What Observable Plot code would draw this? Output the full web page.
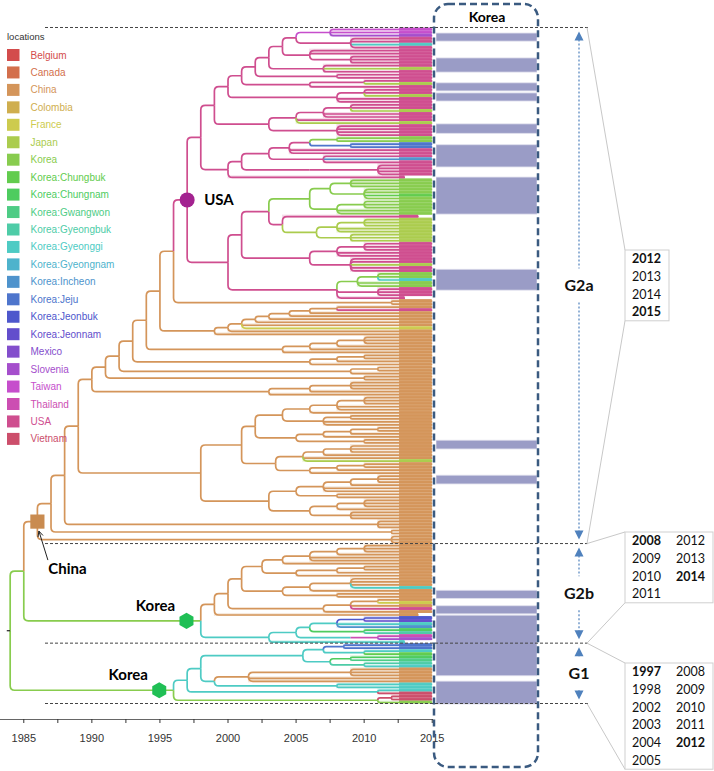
<!DOCTYPE html>
<html>
<head>
<meta charset="utf-8">
<script src="https://cdn.jsdelivr.net/npm/d3@7"></script>
<script src="https://cdn.jsdelivr.net/npm/@observablehq/plot@0.6"></script>
<style>
  html, body { margin: 0; padding: 0; background: #fff; }
  #wrap { position: relative; width: 714px; height: 771px; overflow: hidden; }
  #wrap > svg { position: absolute; top: 0; }
</style>
</head>
<body>
<div id="wrap"></div>
<script>
// ---------------- DATA ----------------
const locations = ["Belgium","Canada","China","Colombia","France","Japan","Korea",
  "Korea:Chungbuk","Korea:Chungnam","Korea:Gwangwon","Korea:Gyeongbuk","Korea:Gyeonggi",
  "Korea:Gyeongnam","Korea:Incheon","Korea:Jeju","Korea:Jeonbuk","Korea:Jeonnam",
  "Mexico","Slovenia","Taiwan","Thailand","USA","Vietnam"];
const locationCodes = ["B","N","C","O","F","J","K","1","2","3","4","5","6","7","8","9","0","M","S","T","H","U","V"];

// Time-scaled tree: [nodeYear locationCode =name children...]; leaf tokens = one char per tip (tip year 2015 unless ":year")
const treeText = `
[1984.0 K =ROOT
 [1985.0 K
  [1986.0 C =CN
   [1987.0 C
    [1988.0 C
     [1989.0 C
      [1990.0 C
       [1991.0 C
        [1992.0 C
         [1993.0 C
          [1994.0 C
           [1995.0 C
            [1996.0 C
             [1997.0 U =US
              [1998.0 U
               [1999.0 U
                [2000.0 U
                 [2001.0 U
                  [2002.0 U
                   [2003.0 U
                    [2004.0 U
                     [2005.0 U [2007.5 T TTS] [2009 U UU5U]]
                     [2006.0 U UU [2009 U UUU]]]
                    [2007 U UJU]]
                   [2008 U UU]]
                  [2006 U [2010 U UJ] U]]
                 [2008.0 U [2010 U UUJ] UU]]
                [2003.0 U
                 [2005.0 U [2007 U [2009 U UUJ] UU] UJ]
                 [2008 U UUUU]]]
               [2000.0 U
                [2001.0 U
                 [2003.0 U [2004.5 U [2006 U [2008 K KK] [2009 8 88]] UU] [2007 U U7U]]
                 [2006.0 U [2011 U UUUU]]]
                U:2013]]
              [2000.0 U
               [2001.0 U
                [2003.0 U
                 [2006.0 K [2007.5 K [2009 K KKK] [2010 K KK1K]] [2008 K [2010 K KKK] KK]]
                 [2004.0 U U:2014 [2006.5 J [2008 J [2010 J JJJ] JJ] [2009 J JJJ]]]]
                [2006.0 U [2008 U [2010 U UUU] UU] [2009 U UUJUU]]]
               [2008.0 U
                [2009.5 K [2011 K KK5] KK]
                [2011 U UUU]
                U:2013]]]
             [2012 C CC]]
            [1999.0 C [2000 C [2001 C [2002 C [2003 C [2004.5 C [2006 C [2008 C CU] C] C] C] C] CF] C] C]]
           [2004.0 C [2006 C [2008 C [2010 C CCC] C] C] C]]
          [2006 C [2008 C [2010 C CC] C] C]]
         [2009 C [2011 C CC] C]]
        [2010 C CC]]
       [2003 C [2006 C [2009 C CCC] C] C]]
      [1998.0 C =M
       [2001.0 C
        [2002.0 C
         [2004.0 C [2006 C [2008 C [2010 C CCC] CC] C] [2007 C [2009 C CC] CC]]
         [2005.0 C [2007 C [2009 C [2011 C CC] C] C] [2010 C CC]]]
        [2003.5 C
         [2005.5 C [2007 C [2009 C CCC] C] CJ]
         [2006 C [2008 C [2010 C CC] C] C]]]
       [2003.0 C
        [2005 C [2007 C [2009 C [2011 C CCC] C] CC] [2008 C CC]]
        [2006 C [2008 C [2010 C CCC] C] [2009 C CCC]]]]]
     [2011 C CCC]]
    [2012 C CC]]
   [2012 C CCC]]
  [1998.0 K =K2
   [1999.0 C
    [2000.0 C
     [2001 C
      [2002.5 C
       [2004 C [2006 C [2008 C [2010 C CCC] C] CC] C]
       [2005 C [2008 C [2010 C CC] C] C]]
      [2004 C [2006 C [2009 C CCC5] C] [2008 C CC]]]
     [2007 C [2009 C [2011 C CF] CU] C]]
    C:2014]
   [2003 5 [2005 5 [2006 5 [2008 5 [2010 9 90] 57] [2010 2 24]] [2009 5 [2011 H HS]]] 5:2013]]]
 [1996.0 K =K1
  [1997.0 5
   [1998.0 5
    [2005.5 5
     [2007 5 [2008.5 8 88] [2010 5 51]]
     [2007.5 5 [2009 2 23] [2010 4 45]]]
    [1999.0 5 [2001.5 C [2009 C CCC] CC] [2008 5 55]]]
   [2011 5 5V]]
  [2011 K [2012 V VV] K]]]
`;

// Korea sequences panel: [top, bottom] in tree-row percent (0 = first tip, 100 = last tip)
const koreaBars = [[0.6,1.8],[4.3,6.4],[8.0,9.2],[9.5,10.7],[14.1,15.5],[17.2,20.5],[22.0,27.5],
  [35.7,38.8],[61.1,62.4],[66.3,67.6],[83.4,84.6],[85.7,86.9],[87.1,96.1],[96.9,100.3]];

const majorYears = [1985,1990,1995,2000,2005,2010,2015];
const minorYears = [1987.5,1992.5,1997.5,2002.5,2007.5,2012.5];

const groupNames = ["G2a","G2b","G1"];
const groupNodes = ["CN","K2","K1"];
const groupYears = [[2012,2013,2014,2015],[2008,2009,2010,2011,2012,2013,2014],
  [1997,1998,2002,2003,2004,2005,2008,2009,2010,2011,2012]];
const groupBold = [[2012,2015],[2008,2014],[1997,2012]];

// ---------------- STYLE / LAYOUT ----------------
const palette = ["#d34c4c","#d36f4c","#d4955a","#cfae4e","#cdcb4e","#abcc4e","#88cc4e","#62cc4e",
  "#4ecc5f","#4ecc85","#4ecca7","#4ecbc4","#4eb3cc","#4e93cc","#4e75cc","#4e57cc","#634ecc",
  "#834ecc","#a54ecc","#c64ecc","#cc4eb2","#cf4e8f","#cc4e6b"];
const W = 714, H = 771;
const TIP_SOLID = 2012.6;
const boxTop = [250, 532, 663];

// ---------------- PARSE + LAYOUT TREE ----------------
function parseTree(str) {
  const toks = str.replace(/\[/g, " [ ").replace(/\]/g, " ] ").trim().split(/\s+/);
  let i = 0;
  function node(parent) {
    const t = toks[i++];
    if (t === "[") {
      const n = {year: +toks[i++], loc: toks[i++], children: [], parent, leaf: false};
      if (toks[i][0] === "=") n.name = toks[i++].slice(1);
      while (toks[i] !== "]") {
        const c = node(n);
        if (Array.isArray(c)) n.children.push(...c); else n.children.push(c);
      }
      i++;
      return n;
    }
    const [codes, yr] = t.split(":");
    return [...codes].map(ch => ({year: yr ? +yr : 2015, loc: ch, children: [], parent, leaf: true}));
  }
  return node(null);
}
const root = parseTree(treeText);
const nodes = [], leaves = [];
(function walk(n) { nodes.push(n); if (n.leaf) leaves.push(n); else n.children.forEach(walk); })(root);
const N = leaves.length, rowStep = 100 / (N - 1), half = rowStep / 2;
leaves.forEach((d, i) => d.y = i * rowStep);
(function setY(n) {
  if (n.leaf) return;
  n.children.forEach(setY);
  n.y = (n.children[0].y + n.children[n.children.length - 1].y) / 2;
})(root);
const byName = Object.fromEntries(nodes.filter(d => d.name).map(d => [d.name, d]));
const branches = nodes.filter(d => d.parent);

// rounded elbow curve
function elbow(context) {
  let pts = [];
  return {
    areaStart() {}, areaEnd() {},
    lineStart() { pts = []; },
    point(x, y) { pts.push([+x, +y]); },
    lineEnd() {
      if (pts.length < 2) return;
      const [x0, y0] = pts[0], [x1, y1] = pts[pts.length - 1];
      const dy = y1 - y0, dx = x1 - x0;
      const r = Math.min(4.5, Math.abs(dy), Math.abs(dx));
      context.moveTo(x0, y0);
      if (r > 0.05) {
        context.lineTo(x0, y1 - Math.sign(dy) * r);
        context.quadraticCurveTo(x0, y1, x0 + Math.sign(dx) * r, y1);
      } else context.lineTo(x0, y1);
      context.lineTo(x1, y1);
    }
  };
}

const us = byName.US, cn = byName.CN, k2 = byName.K2, k1 = byName.K1;

const chart = Plot.plot({
  width: W, height: H,
  marginLeft: 0, marginRight: 282, marginTop: 0, marginBottom: 52,
  x: {domain: [1983.29, 2015.02], label: null},
  y: {domain: [0, 100], range: [29, 702], axis: null, label: null},
  color: {type: "ordinal", domain: locationCodes, range: palette},
  style: {fontFamily: "'Liberation Sans', Arial, sans-serif", background: "transparent"},
  marks: [
    Plot.rect(leaves, {x1: d => d.parent.year, x2: "year", y1: d => d.y - half, y2: d => d.y + half, fill: "loc", fillOpacity: 0.2}),
    Plot.rect(leaves.filter(d => d.year > Math.max(d.parent.year, TIP_SOLID)),
      {x1: d => Math.max(d.parent.year, TIP_SOLID), x2: "year", y1: d => d.y - half, y2: d => d.y + half, fill: "loc", fillOpacity: 0.95}),
    Plot.link(branches, {x1: d => d.parent.year, y1: d => d.parent.y, x2: "year", y2: "y", stroke: "loc", strokeWidth: 1.7, curve: elbow}),
    Plot.link([root], {x1: d => d.year - 0.25, x2: "year", y1: "y", y2: "y", stroke: "#222", strokeWidth: 1.2}),
    Plot.frame({anchor: "bottom", stroke: "#666", strokeWidth: 1.2}),
    Plot.axisX({ticks: majorYears, tickSize: 4, tickPadding: 11, fontSize: 11, tickFormat: "d", color: "#333", label: null}),
    Plot.axisX({ticks: minorYears, tickSize: 4, tickFormat: () => "", color: "#333", label: null}),
    Plot.dot([us], {x: "year", y: "y", r: 7.5, fill: "#a3228f"}),
    Plot.text([us], {x: "year", y: "y", text: () => "USA", dx: 17, textAnchor: "start", fontSize: 15, fontWeight: "bold", fontFamily: "Lato", fill: "#000"}),
    Plot.dot([cn], {x: "year", y: "y", symbol: "square", r: 8, fill: "#c98b50"}),
    Plot.text([cn], {x: "year", y: "y", text: () => "China", dx: 30, dy: 48, fontSize: 15, fontWeight: "bold", fontFamily: "Lato", fill: "#000"}),
    Plot.dot([k2, k1], {x: d => d.year - 1.05, y: "y", symbol: "hexagon", r: 7, fill: "#20bf55"}),
    Plot.text([k2, k1], {x: d => d.year - 1.05, y: "y", text: () => "Korea", dx: -31, dy: -15, fontSize: 15, fontWeight: "bold", fontFamily: "Lato", fill: "#000"})
  ]
});
const wrap = document.getElementById("wrap");
chart.style.left = "0px";
wrap.appendChild(chart);

// Korea sequence column
const bars = Plot.plot({
  width: 101, height: H, marginLeft: 0, marginRight: 0, marginTop: 0, marginBottom: 0,
  x: {domain: [0, 1], axis: null},
  y: {domain: [0, 100], range: [29, 702], axis: null},
  style: {background: "transparent"},
  marks: [Plot.rect(koreaBars, {x1: () => 0, x2: () => 1, y1: d => d[0], y2: d => d[1], fill: "#9a9cc6", stroke: "#dedeec", strokeWidth: 0.8})]
});
bars.style.left = "436px";
wrap.appendChild(bars);

// ---------------- ANNOTATION OVERLAY ----------------
const xs = chart.scale("x"), ysc = chart.scale("y");
const X = d3.scaleLinear(xs.domain, xs.range), Y = d3.scaleLinear(ysc.domain, ysc.range);
const svg = d3.select(wrap).append("svg").attr("width", W).attr("height", H)
  .style("position", "absolute").style("left", "0px").style("top", "0px");

// legend
svg.append("text").attr("x", 7).attr("y", 40).attr("font-size", 9.5)
  .attr("font-family", "'Liberation Sans', Arial, sans-serif").attr("fill", "#333").text("locations");
locations.forEach((name, i) => {
  const cy = 55 + i * 17.45;
  svg.append("rect").attr("x", 7).attr("y", cy - 6).attr("width", 12.5).attr("height", 12).attr("fill", palette[i]);
  svg.append("text").attr("x", 30.5).attr("y", cy).attr("dy", "0.35em").attr("font-size", 10)
    .attr("font-family", "'Liberation Sans', Arial, sans-serif").attr("fill", palette[i]).text(name);
});

// China arrow
{
  const cx = X(cn.year), cy = Y(cn.y);
  const x0 = cx + 11, y0 = cy + 39, x1 = cx + 2, y1 = cy + 10;
  svg.append("line").attr("x1", x0).attr("y1", y0).attr("x2", x1).attr("y2", y1).attr("stroke", "#222").attr("stroke-width", 1);
  const a = Math.atan2(y1 - y0, x1 - x0), L = 6;
  svg.append("path").attr("d", `M${x1 + L * Math.cos(a + Math.PI - 0.45)},${y1 + L * Math.sin(a + Math.PI - 0.45)}L${x1},${y1}L${x1 + L * Math.cos(a + Math.PI + 0.45)},${y1 + L * Math.sin(a + Math.PI + 0.45)}`)
    .attr("fill", "none").attr("stroke", "#222").attr("stroke-width", 1);
}

// group boundaries from tips
function tipRange(n) { const ls = []; (function w(m) { if (m.leaf) ls.push(m); else m.children.forEach(w); })(n); return [ls[0].y, ls[ls.length - 1].y]; }
const ranges = groupNodes.map(n => tipRange(byName[n]));
const bounds = ranges.map((r, i) => [
  i === 0 ? r[0] - half : (ranges[i - 1][1] + r[0]) / 2,
  i === ranges.length - 1 ? r[1] + half : (r[1] + ranges[i + 1][0]) / 2
]);
const sepVals = [bounds[0][0], ...bounds.map(b => b[1])];
sepVals.forEach(v => {
  svg.append("line").attr("x1", 45).attr("x2", 590).attr("y1", Y(v)).attr("y2", Y(v))
    .attr("stroke", "#444").attr("stroke-width", 1).attr("stroke-dasharray", "3,2");
});

// Korea panel frame
svg.append("rect").attr("x", 434).attr("y", 4).attr("width", 104).attr("height", 763).attr("rx", 14)
  .attr("fill", "none").attr("stroke", "#3a5a80").attr("stroke-width", 2.5).attr("stroke-dasharray", "7,4");
svg.append("text").attr("x", 487).attr("y", 17).attr("dy", "0.35em").attr("text-anchor", "middle")
  .attr("font-family", "Lato").attr("font-weight", "bold").attr("font-size", 14).text("Korea");

// group arrows, labels, year boxes
const AX = 579, blue = "#4f81bd";
groupNames.forEach((g, i) => {
  const t = Y(bounds[i][0]) + 4, b = Y(bounds[i][1]) - 4, m = (t + b) / 2;
  [[t + 8, m - 17], [m + 17, b - 8]].forEach(([a1, a2]) =>
    svg.append("line").attr("x1", AX).attr("x2", AX).attr("y1", a1).attr("y2", a2)
      .attr("stroke", blue).attr("stroke-width", 1.2).attr("stroke-dasharray", "2,2"));
  svg.append("path").attr("d", `M${AX},${t}L${AX - 4.5},${t + 9}L${AX + 4.5},${t + 9}Z`).attr("fill", blue);
  svg.append("path").attr("d", `M${AX},${b}L${AX - 4.5},${b - 9}L${AX + 4.5},${b - 9}Z`).attr("fill", blue);
  svg.append("text").attr("x", AX).attr("y", m).attr("dy", "0.35em").attr("text-anchor", "middle")
    .attr("font-family", "Lato").attr("font-weight", "bold").attr("font-size", 16).attr("fill", "#111").text(g);

  const yrs = groupYears[i], cols = yrs.length > 4 ? 2 : 1, rows = Math.ceil(yrs.length / cols);
  const bx = 625, by = boxTop[i], bw = cols * 44, bh = rows * 17.7;
  svg.append("line").attr("x1", 587).attr("y1", Y(bounds[i][0])).attr("x2", bx).attr("y2", by).attr("stroke", "#c8c8c8");
  svg.append("line").attr("x1", 587).attr("y1", Y(bounds[i][1])).attr("x2", bx).attr("y2", by + bh).attr("stroke", "#c8c8c8");
  svg.append("rect").attr("x", bx).attr("y", by).attr("width", bw).attr("height", bh)
    .attr("fill", "#fff").attr("stroke", "#cfcfcf");
  yrs.forEach((yv, k) => {
    const c = Math.floor(k / rows), r = k % rows;
    svg.append("text").attr("x", bx + 7 + c * 44).attr("y", by + 8.8 + r * 17.7).attr("dy", "0.35em")
      .attr("font-family", "Lato").attr("font-size", 12.5)
      .attr("font-weight", groupBold[i].includes(yv) ? "bold" : "normal").attr("fill", "#111").text(yv);
  });
});
</script>
</body>
</html>
